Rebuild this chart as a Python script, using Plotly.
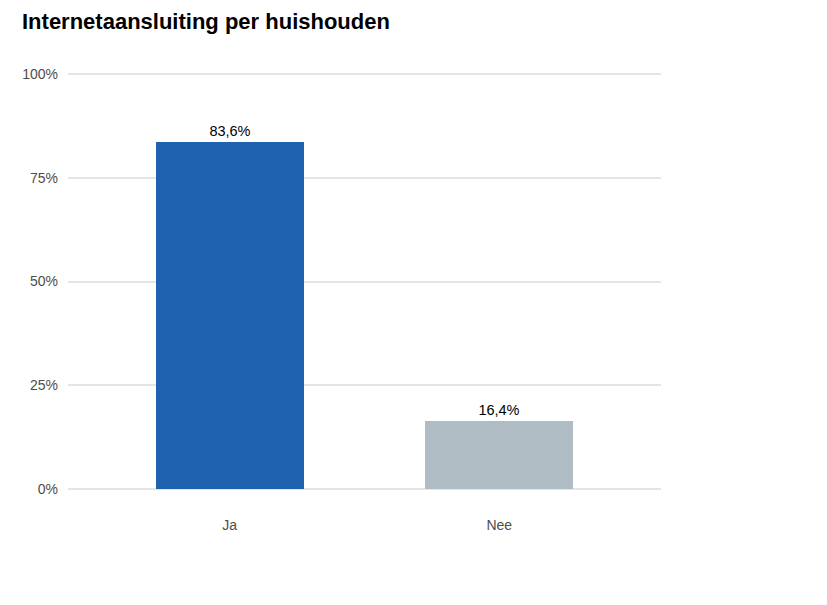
import plotly.graph_objects as go

categories = ["Ja", "Nee"]
shares = [0.836, 0.164]
bar_colors = ["#1f62af", "#afbcc4"]
y_ticks = [0, 0.25, 0.5, 0.75, 1.0]

fig = go.Figure(go.Bar(
    x=categories,
    y=shares,
    width=0.55,
    marker=dict(color=bar_colors, line=dict(width=0)),
    texttemplate="%{y:.1%}",
    textposition="outside",
    textfont=dict(size=14.5, color="black"),
    cliponaxis=False,
    hoverinfo="skip",
))

# page body adds 8px offset, so the figure is a bit smaller than the window
fig.update_layout(
    width=819,
    height=597,
    margin=dict(l=60, r=166, t=62, b=112),
    paper_bgcolor="white",
    plot_bgcolor="white",
    separators=",.",
    font=dict(family="Liberation Sans, Arial, sans-serif", size=14, color="#4d4d4d"),
    title=dict(
        text="<b>Internetaansluiting per huishouden</b>",
        x=14 / 819, xref="container", xanchor="left",
        y=1, yref="container", yanchor="top",
        pad=dict(t=6, l=0),
        font=dict(size=22, color="black"),
    ),
    showlegend=False,
    bargap=0,
)
fig.update_xaxes(
    range=[-0.6, 1.6],
    showgrid=False,
    zeroline=False,
    showline=False,
    ticks="",
    ticklabelstandoff=22,
)
fig.update_yaxes(
    range=[-0.01, 1.01],
    tickvals=y_ticks,
    tickformat=".0%",
    showgrid=True,
    gridcolor="#e5e5e5",
    gridwidth=2,
    zeroline=False,
    showline=False,
    ticks="",
    ticklabelstandoff=9,
)

fig.write_html("out.html")
